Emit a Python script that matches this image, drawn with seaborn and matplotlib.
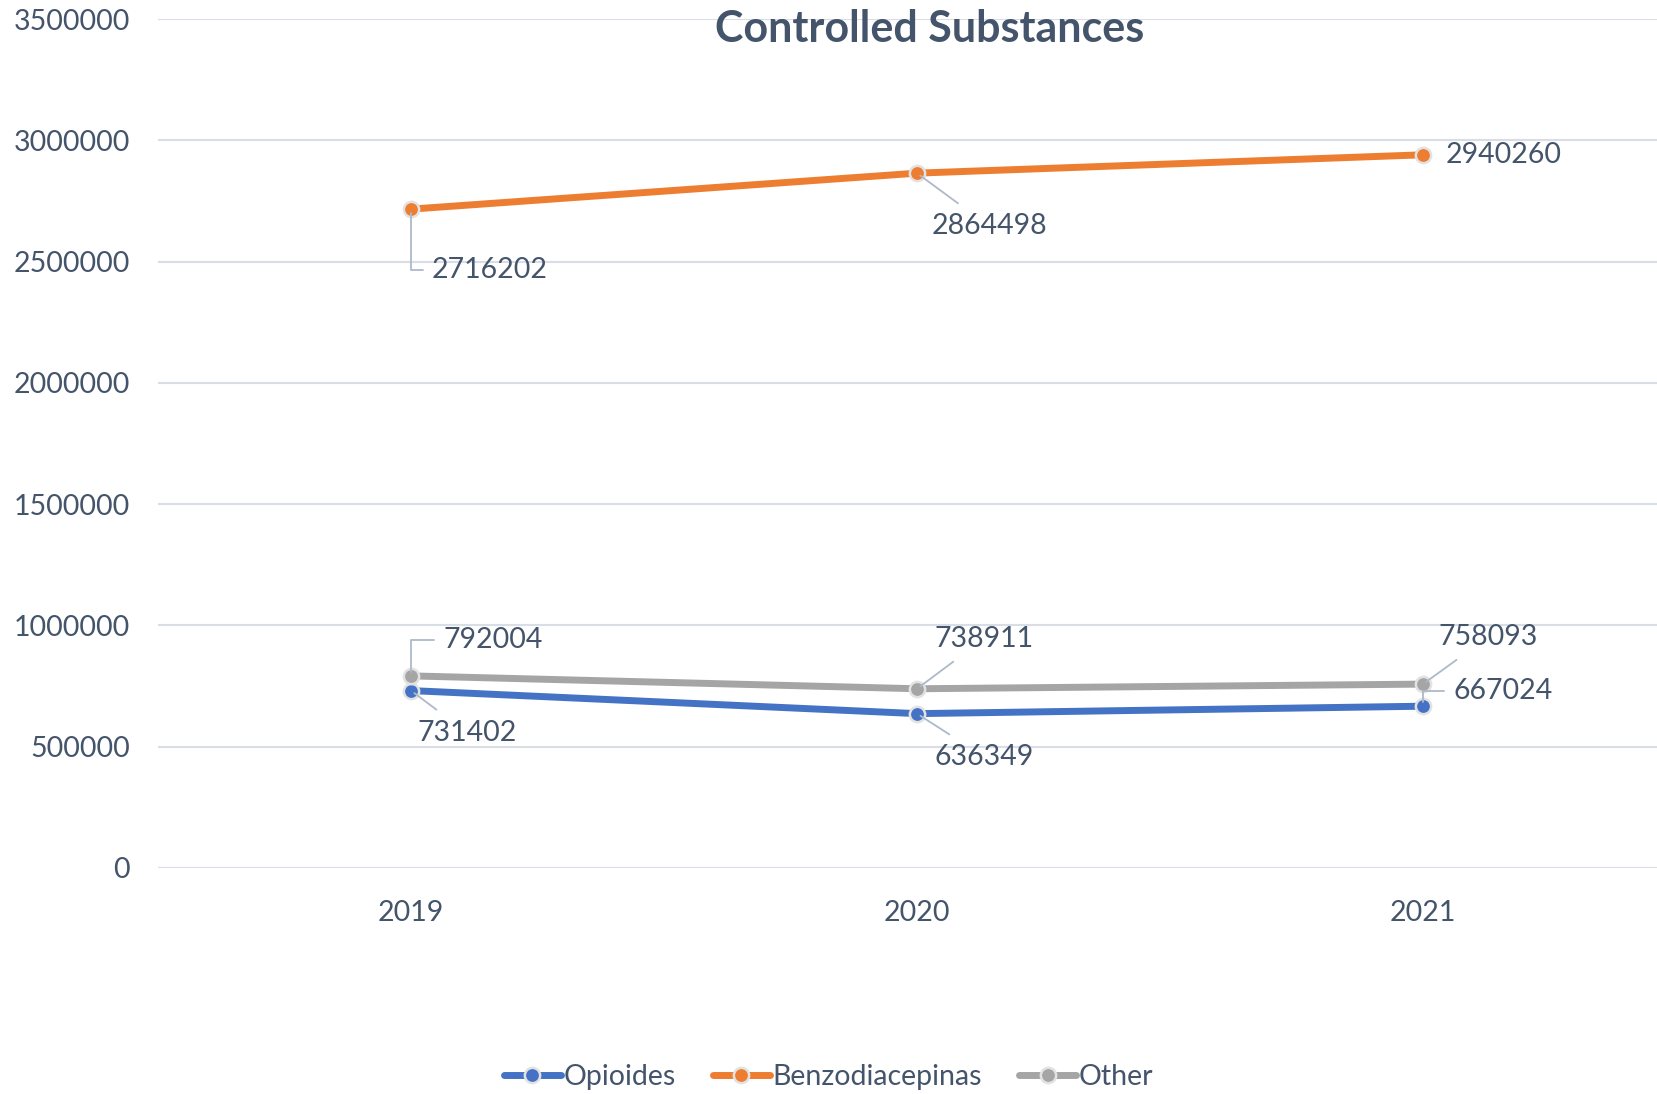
import numpy as np
import pandas as pd
import matplotlib
matplotlib.use("Agg")
import matplotlib.pyplot as plt
import seaborn as sns

# datos
years = [2019, 2020, 2021]
opioides = [731402, 636349, 667024]
benzodiacepinas = [2716202, 2864498, 2940260]
other = [792004, 738911, 758093]
series_names = ["Opioides", "Benzodiacepinas", "Other"]
y_ticks = [0, 500000, 1000000, 1500000, 2000000, 2500000, 3000000, 3500000]

colors = {"Opioides": "#4472C4", "Benzodiacepinas": "#ED7D31", "Other": "#A5A5A5"}
text_color = "#44546A"
grid_color = "#D9DEE6"

df = pd.DataFrame({
    "Year": years * 3,
    "Value": opioides + benzodiacepinas + other,
    "Serie": [n for n in series_names for _ in years],
})

sns.set_theme(style="white")
plt.rcParams["font.family"] = ["Lato", "DejaVu Sans"]

fig = plt.figure(figsize=(16.57, 10.94), dpi=100)
ax = fig.add_axes([158 / 1657, 226 / 1094, 1518 / 1657, 849 / 1094])

sns.lineplot(
    data=df, x="Year", y="Value", hue="Serie", palette=colors,
    hue_order=series_names, linewidth=5, marker="o", markersize=11,
    markeredgecolor="#E2E2E2", markeredgewidth=1.8, ax=ax, legend=True,
)

ax.set_xlim(2018.5, 2021.5)
ax.set_ylim(0, 3500000)
ax.set_xticks(years)
ax.set_xticklabels([str(y) for y in years])
ax.set_yticks(y_ticks)
ax.set_yticklabels([str(v) for v in y_ticks])
ax.tick_params(axis="both", length=0, labelsize=20.5, colors=text_color)
ax.tick_params(axis="y", pad=20)
ax.tick_params(axis="x", pad=23)
ax.set_xlabel("")
ax.set_ylabel("")
for s in ax.spines.values():
    s.set_visible(False)
ax.yaxis.grid(True, color=grid_color, linewidth=1.5)
ax.xaxis.grid(False)
ax.set_axisbelow(True)

# etiquetas de datos: (offset x, offset y, ha, tipo de linea guia)
label_pos = {
    "Benzodiacepinas": [(21, -61, "left", "elbow"), (72, -53, "center", "line"), (23, 0, "left", None)],
    "Other": [(32, 36, "left", "elbow_up"), (67, 50, "center", "line"), (65, 47, "center", "line")],
    "Opioides": [(56, -42, "center", "line"), (67, -43, "center", "line"), (30, 15, "left", "elbow_up")],
}
values = {"Opioides": opioides, "Benzodiacepinas": benzodiacepinas, "Other": other}
for name in series_names:
    for yr, val, (dx, dy, ha, kind) in zip(years, values[name], label_pos[name]):
        arrow = None
        if kind == "line":
            arrow = dict(arrowstyle="-", color="#ADB9CA", lw=1.3, shrinkA=8, shrinkB=3)
        elif kind in ("elbow", "elbow_up"):
            arrow = dict(arrowstyle="-", color="#ADB9CA", lw=1.3, shrinkA=4, shrinkB=3,
                         connectionstyle="angle,angleA=0,angleB=90,rad=0")
        ax.annotate(str(val), xy=(yr, val), xytext=(dx, dy), textcoords="offset pixels",
                    ha=ha, va="center", fontsize=20.5, color=text_color, arrowprops=arrow)

fig.text(930 / 1657, 1 - 29 / 1094, "Controlled Substances", ha="center", va="center",
         fontsize=31, fontweight="bold", color=text_color)

handles, labels = ax.get_legend_handles_labels()
ax.legend_.remove()
fig.legend(handles, labels, loc="center", bbox_to_anchor=(0.5, 1 - 1077 / 1094),
           ncol=3, frameon=False, fontsize=20.5, labelcolor=text_color,
           handlelength=2.0, handletextpad=0.1, columnspacing=1.3)

fig.savefig("out.png", dpi=100)
